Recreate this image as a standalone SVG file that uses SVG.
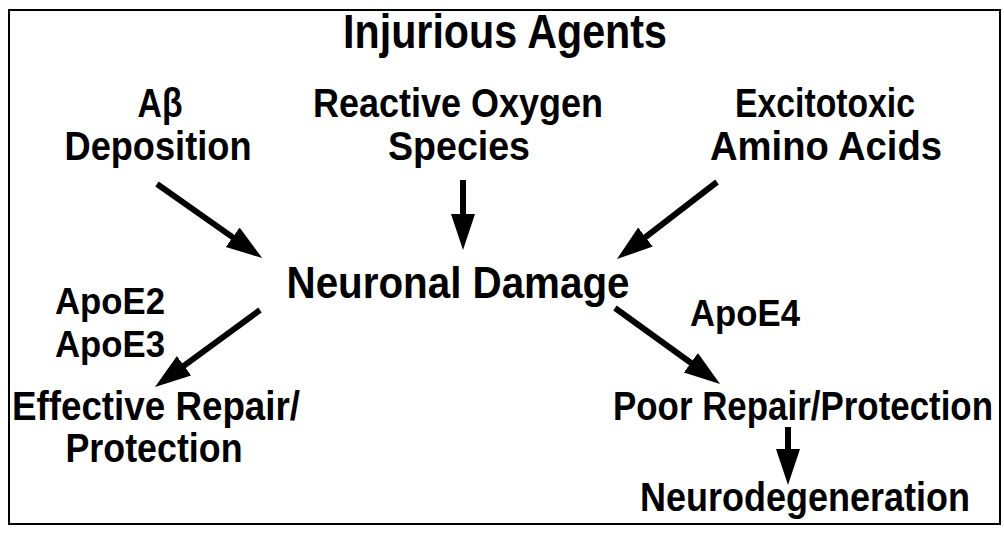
<svg xmlns="http://www.w3.org/2000/svg" width="1004" height="534" viewBox="0 0 1004 534">
<defs>
<style>
text{font-family:"Liberation Sans",Arial,sans-serif;font-weight:bold;fill:#000;text-anchor:middle}
.t{font-size:48px}
.a{font-size:40px}
.n{font-size:44px}
.p{font-size:37px}
.c{stroke:#000;stroke-width:6;fill:none;marker-end:url(#ah)}
</style>
<marker id="ah" markerUnits="userSpaceOnUse" markerWidth="44" markerHeight="30" viewBox="0 -15 44 30" refX="2" refY="0" orient="auto"><path d="M0,-12 L36,0 L0,12 z" fill="#000"/></marker>
</defs>
<rect x="0" y="0" width="1004" height="534" fill="#fff"/>
<rect x="9" y="10" width="991" height="514" fill="none" stroke="#000" stroke-width="2"/>
<g id="title"><text class="t" x="505" y="48" textLength="324" lengthAdjust="spacingAndGlyphs">Injurious Agents</text></g>
<g id="abeta"><text class="a" x="160" y="117" textLength="45" lengthAdjust="spacingAndGlyphs">Aβ</text><text class="a" x="158" y="160" textLength="187" lengthAdjust="spacingAndGlyphs">Deposition</text></g>
<g id="ros"><text class="a" x="458" y="117" textLength="290" lengthAdjust="spacingAndGlyphs">Reactive Oxygen</text><text class="a" x="459" y="160" textLength="142" lengthAdjust="spacingAndGlyphs">Species</text></g>
<g id="excito"><text class="a" x="825" y="117" textLength="180" lengthAdjust="spacingAndGlyphs">Excitotoxic</text><text class="a" x="826" y="160" textLength="232" lengthAdjust="spacingAndGlyphs">Amino Acids</text></g>
<g id="damage"><text class="n" x="458" y="298" textLength="343" lengthAdjust="spacingAndGlyphs">Neuronal Damage</text></g>
<g id="apoe23"><text class="p" x="110" y="314" textLength="110" lengthAdjust="spacingAndGlyphs">ApoE2</text><text class="p" x="110" y="357" textLength="110" lengthAdjust="spacingAndGlyphs">ApoE3</text></g>
<g id="apoe4"><text class="p" x="745" y="326" textLength="110" lengthAdjust="spacingAndGlyphs">ApoE4</text></g>
<g id="effective"><text class="a" x="156" y="420" textLength="288" lengthAdjust="spacingAndGlyphs">Effective Repair/</text><text class="a" x="154" y="462" textLength="177" lengthAdjust="spacingAndGlyphs">Protection</text></g>
<g id="poor"><text class="a" x="803" y="420" textLength="380" lengthAdjust="spacingAndGlyphs">Poor Repair/Protection</text></g>
<g id="neurodeg"><text class="a" x="805" y="511" textLength="330" lengthAdjust="spacingAndGlyphs">Neurodegeneration</text></g>
<g id="connectors">
<line class="c" x1="157" y1="184" x2="234.3" y2="238.4"/>
<line class="c" x1="463" y1="180" x2="463" y2="216"/>
<line class="c" x1="717" y1="182" x2="643.9" y2="238.3"/>
<line class="c" x1="260" y1="310" x2="182.4" y2="366.9"/>
<line class="c" x1="615" y1="308" x2="692.5" y2="364.0"/>
<line class="c" x1="788" y1="427" x2="788" y2="451"/>
</g>
</svg>
